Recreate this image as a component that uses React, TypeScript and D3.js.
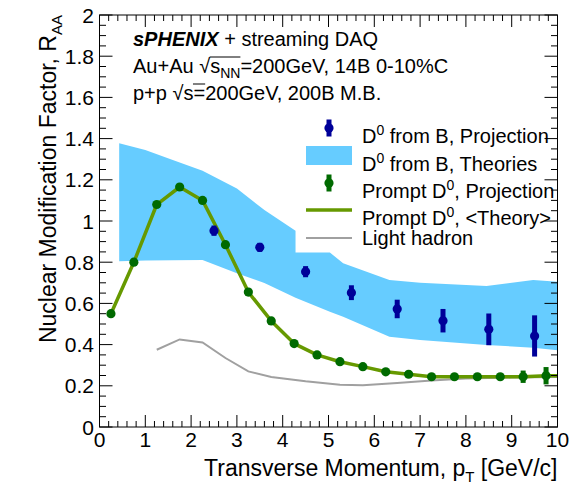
import React, { useEffect, useRef } from 'react';
import * as d3 from 'd3';

const W = 572;
const H = 492;
const FONT = "'Liberation Sans', Arial, Helvetica, sans-serif";

// Prompt D0 projection (pT bin centres, RAA, uncertainty)
const promptPt = [0.25, 0.75, 1.25, 1.75, 2.25, 2.75, 3.25, 3.75, 4.25, 4.75, 5.25, 5.75, 6.25, 6.75, 7.25, 7.75, 8.25, 8.75, 9.25, 9.75];
const promptRaa = [0.55, 0.8, 1.08, 1.165, 1.1, 0.885, 0.655, 0.515, 0.405, 0.35, 0.317, 0.293, 0.268, 0.256, 0.244, 0.244, 0.244, 0.244, 0.244, 0.249];
const promptErr = [0.004, 0.004, 0.004, 0.004, 0.004, 0.004, 0.004, 0.004, 0.004, 0.004, 0.004, 0.005, 0.005, 0.006, 0.008, 0.01, 0.012, 0.016, 0.03, 0.042];

// Prompt D0 <Theory> curve
const theoryPt = [0.25, 0.75, 1.25, 1.75, 2.25, 2.75, 3.25, 3.75, 4.25, 4.75, 5.25, 5.75, 6.25, 6.75, 7.25, 7.75, 8.25, 8.75, 9.25, 9.75, 10];
const theoryRaa = [0.55, 0.8, 1.08, 1.165, 1.1, 0.885, 0.655, 0.515, 0.405, 0.35, 0.317, 0.293, 0.268, 0.256, 0.244, 0.244, 0.244, 0.244, 0.244, 0.249, 0.249];

// D0 from B projection
const bPt = [2.5, 3.5, 4.5, 5.5, 6.5, 7.5, 8.5, 9.5];
const bRaa = [0.953, 0.872, 0.754, 0.652, 0.573, 0.516, 0.474, 0.442];
const bErr = [0.025, 0.022, 0.027, 0.036, 0.045, 0.057, 0.077, 0.1];

// D0 from B theory band
const bandPt = [0.43, 1.0, 1.6, 2.25, 3.0, 3.6, 4.28, 4.28, 5.03, 5.32, 6.33, 7.0, 8.45, 9.47, 10];
const bandHi = [1.377, 1.345, 1.296, 1.244, 1.158, 1.053, 0.953, 0.847, 0.847, 0.795, 0.714, 0.7, 0.684, 0.714, 0.705];
const bandLo = [0.805, 0.808, 0.81, 0.811, 0.746, 0.699, 0.627, 0.627, 0.56, 0.535, 0.438, 0.422, 0.398, 0.385, 0.372];

// Light hadron RAA
const lightPt = [1.25, 1.75, 2.25, 2.75, 3.25, 3.75, 4.5, 5.25, 5.75, 6.5, 7.25, 8, 9, 10];
const lightRaa = [0.375, 0.425, 0.41, 0.335, 0.27, 0.243, 0.222, 0.205, 0.203, 0.213, 0.226, 0.235, 0.24, 0.243];

const xMajor = [0, 1, 2, 3, 4, 5, 6, 7, 8, 9, 10];
const yMajor = [0, 0.2, 0.4, 0.6, 0.8, 1, 1.2, 1.4, 1.6, 1.8, 2];
const yLabels = ['0', '0.2', '0.4', '0.6', '0.8', '1', '1.2', '1.4', '1.6', '1.8', '2'];

const C_BAND = '#66ccff';
const C_BLUE = '#000099';
const C_GREEN = '#006a00';
const C_LINE = '#669900';
const C_GREY = '#a0a0a0';

export default function App() {
  const ref = useRef<SVGSVGElement>(null);

  useEffect(() => {
    const svg = d3.select(ref.current);
    svg.selectAll('*').remove();

    const x = d3.scaleLinear().domain([0, 10]).range([99.5, 557.5]);
    const y = d3.scaleLinear().domain([0, 2]).range([427, 15]);
    const [x0, x1] = x.range();
    const [y0, y1] = y.range();

    svg.append('rect').attr('width', W).attr('height', H).attr('fill', '#fff');

    // theory band
    const area = d3
      .area<number>()
      .x((d) => x(d))
      .y0((_, i) => y(bandLo[i]))
      .y1((_, i) => y(bandHi[i]));
    svg.append('path').datum(bandPt).attr('d', area).attr('fill', C_BAND);

    const line = d3
      .line<[number, number]>()
      .x((d) => x(d[0]))
      .y((d) => y(d[1]));

    // light hadron
    svg
      .append('path')
      .datum(d3.zip(lightPt, lightRaa) as [number, number][])
      .attr('d', line)
      .attr('fill', 'none')
      .attr('stroke', C_GREY)
      .attr('stroke-width', 2);

    // prompt theory
    svg
      .append('path')
      .datum(d3.zip(theoryPt, theoryRaa) as [number, number][])
      .attr('d', line)
      .attr('fill', 'none')
      .attr('stroke', C_LINE)
      .attr('stroke-width', 3.5)
      .attr('stroke-linejoin', 'round');

    const drawPoints = (xs: number[], vs: number[], es: number[], color: string) => {
      const g = svg.append('g');
      xs.forEach((px, i) => {
        g.append('line')
          .attr('x1', x(px))
          .attr('x2', x(px))
          .attr('y1', y(vs[i] - es[i]))
          .attr('y2', y(vs[i] + es[i]))
          .attr('stroke', color)
          .attr('stroke-width', 5);
        g.append('circle').attr('cx', x(px)).attr('cy', y(vs[i])).attr('r', 4.6).attr('fill', color);
      });
    };
    drawPoints(bPt, bRaa, bErr, C_BLUE);
    drawPoints(promptPt, promptRaa, promptErr, C_GREEN);

    // frame and ticks
    const axes = svg.append('g').attr('stroke', '#000').attr('stroke-width', 1).attr('fill', 'none');
    axes.append('rect').attr('x', x0).attr('y', y1).attr('width', x1 - x0).attr('height', y0 - y1);

    const xMinor = d3.range(0, 10.001, 0.2);
    const yMinor = d3.range(0, 2.001, 0.05);
    const tick = (x1_: number, y1_: number, x2_: number, y2_: number) =>
      axes.append('line').attr('x1', x1_).attr('y1', y1_).attr('x2', x2_).attr('y2', y2_);
    xMinor.forEach((v) => {
      const major = Math.abs(v - Math.round(v)) < 1e-6;
      const len = major ? 12 : 6;
      tick(x(v), y0, x(v), y0 - len);
      tick(x(v), y1, x(v), y1 + len);
    });
    yMinor.forEach((v) => {
      const major = Math.abs(v / 0.2 - Math.round(v / 0.2)) < 1e-6;
      const len = major ? 13 : 6.5;
      tick(x0, y(v), x0 + len, y(v));
      tick(x1, y(v), x1 - len, y(v));
    });

    // tick labels
    const labels = svg.append('g').attr('font-family', FONT).attr('font-size', 21).attr('fill', '#000');
    xMajor.forEach((v) => {
      labels.append('text').attr('x', x(v)).attr('y', 447).attr('text-anchor', 'middle').text(String(v));
    });
    yMajor.forEach((v, i) => {
      labels
        .append('text')
        .attr('x', 94)
        .attr('y', y(v))
        .attr('dy', '0.36em')
        .attr('text-anchor', 'end')
        .text(yLabels[i]);
    });

    // axis titles
    const xt = svg
      .append('text')
      .attr('font-family', FONT)
      .attr('font-size', 23)
      .attr('x', x1)
      .attr('y', 476)
      .attr('text-anchor', 'end');
    xt.append('tspan').text('Transverse Momentum, p');
    xt.append('tspan').attr('font-size', 15).attr('dy', 6).text('T');
    xt.append('tspan').attr('dy', -6).text(' [GeV/c]');

    const yt = svg
      .append('text')
      .attr('font-family', FONT)
      .attr('font-size', 23)
      .attr('transform', `translate(56,${y1}) rotate(-90)`)
      .attr('text-anchor', 'end');
    yt.append('tspan').text('Nuclear Modification Factor, R');
    yt.append('tspan').attr('font-size', 15).attr('dy', 6).text('AA');

    // header text
    const hdr = svg.append('g').attr('font-family', FONT).attr('font-size', 20).attr('fill', '#000');
    const l1 = hdr.append('text').attr('x', 133).attr('y', 46);
    l1.append('tspan').attr('font-weight', 'bold').attr('font-style', 'italic').text('sPHENIX');
    l1.append('tspan').text(' + streaming DAQ');

    const l2 = hdr.append('text').attr('x', 133).attr('y', 73);
    l2.append('tspan').text('Au+Au ');
    l2.append('tspan').text('\u221A');
    l2.append('tspan').text('s');
    l2.append('tspan').attr('font-size', 14).attr('dy', 5).text('NN');
    l2.append('tspan').attr('dy', -5).text('=200GeV, 14B 0-10%C');

    const l3 = hdr.append('text').attr('x', 133).attr('y', 100);
    l3.append('tspan').text('p+p  ');
    l3.append('tspan').text('\u221A');
    l3.append('tspan').text('s=200GeV, 200B M.B.');

    // overbar for the radicals
    const overbar = (node: SVGTextElement, rootIdx: number, endIdx: number) => {
      const r = node.getExtentOfChar(rootIdx);
      const e = node.getExtentOfChar(endIdx);
      const yb = r.y + 2;
      hdr
        .append('line')
        .attr('x1', r.x + r.width - 0.5)
        .attr('x2', e.x + e.width)
        .attr('y1', yb)
        .attr('y2', yb)
        .attr('stroke', '#000')
        .attr('stroke-width', 1);
    };
    overbar(l2.node() as SVGTextElement, 6, 9);
    overbar(l3.node() as SVGTextElement, 5, 6);

    // legend
    const lg = svg.append('g').attr('font-family', FONT).attr('font-size', 20);
    const mx = 329;
    const rows = [128, 155.5, 183, 210, 238];
    const legendMarker = (cy: number, color: string) => {
      lg.append('rect').attr('x', mx - 2.5).attr('y', cy - 8.5).attr('width', 5).attr('height', 17).attr('fill', color);
      lg.append('circle').attr('cx', mx).attr('cy', cy).attr('r', 4.6).attr('fill', color);
    };
    legendMarker(rows[0], C_BLUE);
    lg.append('rect').attr('x', 306).attr('y', rows[1] - 9.5).attr('width', 46).attr('height', 19).attr('fill', C_BAND);
    legendMarker(rows[2], C_GREEN);
    lg.append('line').attr('x1', 306).attr('x2', 352).attr('y1', rows[3]).attr('y2', rows[3]).attr('stroke', C_LINE).attr('stroke-width', 3.5);
    lg.append('line').attr('x1', 306).attr('x2', 352).attr('y1', rows[4]).attr('y2', rows[4]).attr('stroke', C_GREY).attr('stroke-width', 2);

    const entry = (cy: number, parts: [string, boolean][]) => {
      const t = lg.append('text').attr('x', 362).attr('y', cy + 7);
      parts.forEach(([s, sup]) => {
        if (sup) t.append('tspan').attr('font-size', 14).attr('dy', -8).text(s);
        else t.append('tspan').attr('dy', t.selectAll('tspan').size() > 0 ? 8 : 0).text(s);
      });
    };
    entry(rows[0], [['D', false], ['0', true], [' from B, Projection', false]]);
    entry(rows[1], [['D', false], ['0', true], [' from B, Theories', false]]);
    entry(rows[2], [['Prompt D', false], ['0', true], [', Projection', false]]);
    entry(rows[3], [['Prompt D', false], ['0', true], [', <Theory>', false]]);
    lg.append('text').attr('x', 362).attr('y', rows[4] + 7).text('Light hadron');
  }, []);

  return <svg ref={ref} width={W} height={H} style={{ position: 'absolute', left: 0, top: 0 }} />;
}
